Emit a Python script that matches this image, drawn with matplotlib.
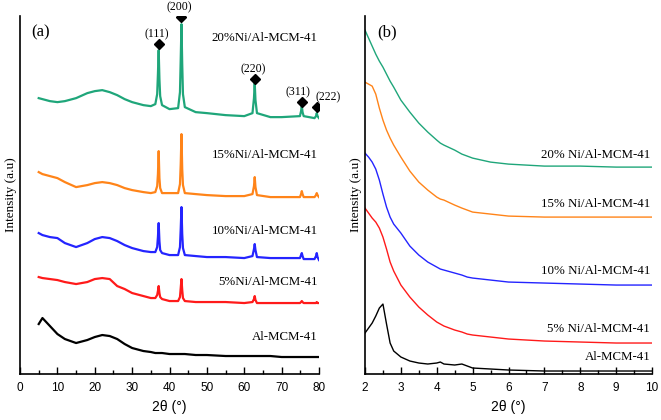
import numpy as np
import matplotlib
matplotlib.use("Agg")
import matplotlib.pyplot as plt
from matplotlib.ticker import MultipleLocator

# ---- panel (a): wide angle XRD ----
xa = [5, 6, 8, 10, 12, 15, 18, 20, 22, 24, 26, 28, 30, 33, 35,
      36.2, 36.7, 36.9, 37.1, 37.3, 37.5, 38.0, 40, 42.3,
      42.8, 43.0, 43.2, 43.4, 43.6, 44.1, 47, 50, 55, 60,
      62.2, 62.6, 62.8, 63.0, 63.4, 67, 70,
      74.9, 75.2, 75.4, 75.6, 75.9, 78.8, 79.2, 79.4, 79.6, 80]

a_ni20 = [276, 275, 273, 272, 273, 276, 281, 283, 284, 282, 279, 275, 272, 269, 268,
          270, 280, 300, 324, 295, 278, 269, 265, 266,
          282, 315, 350, 310, 280, 267, 262, 261, 259, 258,
          261, 276, 291, 274, 261, 257, 257,
          258, 263, 268, 262, 258, 256, 258, 261, 258, 256]
a_ni15 = [202, 200, 198, 196, 192, 187, 189, 191, 192, 191, 189, 186, 184, 182, 181,
          182, 188, 200, 223, 196, 186, 181, 181, 181,
          190, 210, 240, 205, 189, 181, 180, 179, 178, 178,
          180, 188, 197, 187, 179, 177, 177,
          177, 180, 183, 180, 177, 177, 179, 181, 179, 177]
a_ni10 = [141, 139, 137, 136, 131, 127, 131, 135, 137, 136, 133, 129, 126, 123, 122,
          122, 127, 137, 151, 133, 124, 121, 119, 119,
          127, 145, 167, 140, 126, 119, 118, 117, 117, 116,
          118, 125, 130, 124, 117, 116, 116,
          116, 119, 121, 118, 115, 115, 118, 121, 117, 114]
a_ni5 = [97, 96, 95, 94, 92, 90, 92, 95, 96, 95, 88, 85, 81, 78, 76,
         76, 79, 83, 88, 81, 77, 75, 73, 73,
         77, 86, 95, 84, 76, 73, 72, 72, 72, 71,
         72, 75, 78, 74, 71, 71, 71,
         71, 72, 73, 72, 71, 71, 71, 72, 71, 71]
a_al = [50, 56, 48, 40, 35, 31, 34, 37, 39, 38, 35, 30, 26, 23, 22,
        21, 21, 21, 21, 21, 21, 21, 20, 20,
        20, 20, 20, 20, 20, 20, 19, 19, 18, 18,
        18, 18, 18, 18, 18, 18, 17,
        17, 17, 17, 17, 17, 17, 17, 17, 17, 17]

peak_x = [37.1, 43.2, 62.8, 75.4, 79.4]
peak_y = [330, 357, 295, 272, 267]
peak_labels = ["(111)", "(200)", "(220)", "(311)", "(222)"]

# ---- panel (b): low angle XRD ----
xb = [2, 2.1, 2.2, 2.3, 2.4, 2.5, 2.6, 2.7, 2.8, 3.0, 3.25, 3.5, 3.75,
      4.0, 4.1, 4.2, 4.5, 4.7, 4.85, 5.0, 5.5, 6, 7, 8, 9, 10]
b_ni20 = [344, 336, 328, 320, 313, 307, 300, 293, 287, 274, 262, 251, 242,
          234, 231, 229, 224, 220, 218, 216, 212, 210, 208, 208, 207, 207]
b_ni15 = [292, 290, 288, 280, 266, 254, 244, 236, 229, 217, 203, 192, 184,
          177, 175, 174, 169, 166, 164, 162, 160, 158, 157, 157, 157, 157]
b_ni10 = [221, 217, 212, 205, 194, 180, 167, 157, 150, 141, 128, 119, 112,
          107, 105, 104, 101, 99, 97, 96, 94, 92, 91, 90, 89, 89]
b_ni5 = [166, 161, 156, 152, 146, 137, 125, 112, 103, 89, 77, 67, 59,
         52, 50, 48, 44, 42, 40, 39, 37, 35, 33, 32, 31, 31]
b_al = [41, 46, 51, 58, 66, 70, 50, 31, 23, 17, 13, 11, 10,
        11, 12, 10, 9, 10, 8, 6, 5, 4, 3, 3, 3, 3]

colors = ["#1fa67a", "#ff8419", "#2424ff", "#ff1a1a", "#000000"]
labels_a = ["20%Ni/Al-MCM-41", "15%Ni/Al-MCM-41", "10%Ni/Al-MCM-41",
            "5%Ni/Al-MCM-41", "Al-MCM-41"]
labels_b = ["20% Ni/Al-MCM-41", "15% Ni/Al-MCM-41", "10% Ni/Al-MCM-41",
            "5% Ni/Al-MCM-41", "Al-MCM-41"]
label_y_a = [336, 219, 143, 92, 37]
label_y_b = [219, 170, 103, 45, 17]

serif = "Liberation Serif"
sans = "Liberation Sans"

fig = plt.figure(figsize=(6.61, 4.2), dpi=100)
ax1 = fig.add_axes([0.0303, 0.1095, 0.4523, 0.852])
ax2 = fig.add_axes([0.5522, 0.1095, 0.4342, 0.852])

for y, c in zip([a_ni20, a_ni15, a_ni10, a_ni5, a_al], colors):
    ax1.plot(xa, y, color=c, lw=1.6)
for y, c in zip([b_ni20, b_ni15, b_ni10, b_ni5, b_al], colors):
    ax2.plot(xb, y, color=c, lw=1.0)

ax1.plot(peak_x, peak_y, "D", color="black", ms=5)
label_dx = [-0.6, -0.5, -0.3, -1.1, 3.0]
for x, y, t, dx in zip(peak_x, peak_y, peak_labels, label_dx):
    ax1.text(x + dx, y + 4, t, ha="center", va="bottom",
             fontsize=8.5, family=serif, clip_on=False)

for t, y in zip(labels_a, label_y_a):
    ax1.text(79.7, y, t, ha="right", va="center", fontsize=9.3, family=serif)
for t, y in zip(labels_b, label_y_b):
    ax2.text(9.95, y, t, ha="right", va="center", fontsize=9.3, family=serif)

ax1.text(3, 342, "(a)", fontsize=12, family=serif, va="center")
ax2.text(2.35, 342, "(b)", fontsize=12, family=serif, va="center")

ax1.set_xlim(0, 80)
ax2.set_xlim(2, 10)
ax1.xaxis.set_major_locator(MultipleLocator(10))
ax1.xaxis.set_minor_locator(MultipleLocator(5))
ax2.xaxis.set_major_locator(MultipleLocator(1))
ax2.xaxis.set_minor_locator(MultipleLocator(0.5))
for ax in (ax1, ax2):
    ax.set_ylim(0, 358)
    ax.spines["top"].set_visible(False)
    ax.spines["right"].set_visible(False)
    ax.spines["left"].set_linewidth(1.2)
    ax.spines["bottom"].set_linewidth(1.2)
    ax.set_yticks([])
    ax.tick_params(axis="x", direction="in", length=5, width=1, labelsize=8.5, pad=6)
    ax.tick_params(axis="x", which="minor", direction="in", length=3, width=1)
    for lab in ax.get_xticklabels():
        lab.set_family(sans)
    ax.set_xlabel("2θ (°)", fontsize=10, family=sans, labelpad=4)
    ax.set_ylabel("Intensity (a.u)", fontsize=9.5, family=serif, labelpad=2)

fig.savefig("out.png", dpi=100)
